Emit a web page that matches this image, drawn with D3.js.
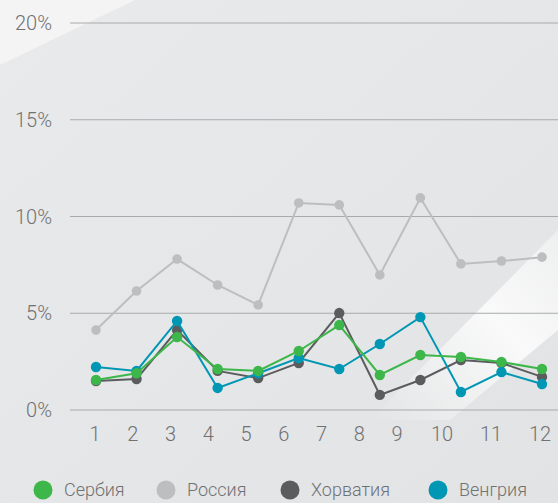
<!DOCTYPE html>
<html>
<head>
<meta charset="utf-8">
<script src="https://cdn.jsdelivr.net/npm/d3@7"></script>
<style>
  body { margin: 0; background: #e6e7e8; }
  svg { display: block; font-family: Roboto, "Noto Sans", sans-serif; font-weight: 300; }
</style>
</head>
<body>
<div id="chart"></div>
<script>
// Data
const months = [1, 2, 3, 4, 5, 6, 7, 8, 9, 10, 11, 12];
const yTicks = [0, 5, 10, 15, 20];
const seriesNames = ["Сербия", "Россия", "Хорватия", "Венгрия"];
const serbia  = [1.55, 1.9, 3.77, 2.12, 2.02, 3.05, 4.39, 1.81, 2.84, 2.74, 2.48, 2.12];
const russia  = [4.13, 6.15, 7.8, 6.46, 5.43, 10.7, 10.6, 6.98, 10.96, 7.55, 7.7, 7.9];
const croatia = [1.5, 1.6, 4.13, 2.02, 1.65, 2.43, 5.01, 0.78, 1.55, 2.58, 2.43, 1.71];
const hungary = [2.22, 2.02, 4.6, 1.14, 1.9, 2.69, 2.12, 3.41, 4.8, 0.93, 1.96, 1.34];
const colors = ["#3db64a", "#bdbec0", "#5b5c5e", "#0097b4"];

const W = 558, H = 503;

const svg = d3.select("#chart")
  .append("svg")
  .attr("width", W)
  .attr("height", H);

// background: grey with light diagonal streaks
const defs = svg.append("defs");
const g1 = defs.append("linearGradient").attr("id", "bg").attr("x1", 0).attr("y1", 0).attr("x2", 1).attr("y2", 1);
g1.append("stop").attr("offset", "0%").attr("stop-color", "#e9eaeb");
g1.append("stop").attr("offset", "100%").attr("stop-color", "#e2e3e4");
svg.append("rect").attr("width", W).attr("height", H).attr("fill", "url(#bg)");

const g2 = defs.append("linearGradient").attr("id", "streak").attr("x1", 0).attr("y1", 1).attr("x2", 1).attr("y2", 0);
g2.append("stop").attr("offset", "0%").attr("stop-color", "#ffffff").attr("stop-opacity", 0);
g2.append("stop").attr("offset", "60%").attr("stop-color", "#ffffff").attr("stop-opacity", 0.8);
g2.append("stop").attr("offset", "100%").attr("stop-color", "#ffffff").attr("stop-opacity", 0.4);

svg.append("path")
  .attr("d", "M0,0 L135,0 L0,65 Z")
  .attr("fill", "#f4f4f5");
svg.append("path")
  .attr("d", "M370,420 L558,230 L558,330 L450,420 Z")
  .attr("fill", "url(#streak)");

// Scales
const x = d3.scalePoint().domain(months).range([96, 542]);
// tick labels are not evenly spaced in the original
const xLabel = d3.scaleLinear().domain([1, 9, 10, 12]).range([95, 397, 442, 540]);
const y = d3.scaleLinear().domain([0, 20]).range([410, 23]);

// Gridlines and y labels
const grid = svg.append("g");
grid.selectAll("line")
  .data(yTicks)
  .enter()
  .append("line")
  .attr("x1", 70)
  .attr("x2", W)
  .attr("y1", d => y(d))
  .attr("y2", d => y(d))
  .attr("stroke", "#a9aaac")
  .attr("stroke-width", 1.2);

grid.selectAll("text")
  .data(yTicks)
  .enter()
  .append("text")
  .attr("x", 52)
  .attr("y", d => y(d))
  .attr("dy", "0.36em")
  .attr("text-anchor", "end")
  .attr("fill", "#707173")
  .style("font-size", "20px")
  .text(d => d + "%");

// x labels
svg.append("g")
  .selectAll("text")
  .data(months)
  .enter()
  .append("text")
  .attr("x", d => xLabel(d))
  .attr("y", 434)
  .attr("dy", "0.36em")
  .attr("text-anchor", "middle")
  .attr("fill", "#707173")
  .style("font-size", "20px")
  .text(d => d);

// Lines
const line = d3.line()
  .x((d, i) => x(months[i]))
  .y(d => y(d));

const drawOrder = [
  { values: russia, color: colors[1], r: 4.8 },
  { values: croatia, color: colors[2], r: 5.2 },
  { values: hungary, color: colors[3], r: 5.2 },
  { values: serbia, color: colors[0], r: 5.2 }
];

drawOrder.forEach(s => {
  const g = svg.append("g");
  g.append("path")
    .datum(s.values)
    .attr("fill", "none")
    .attr("stroke", s.color)
    .attr("stroke-width", 2)
    .attr("d", line);
  g.selectAll("circle")
    .data(s.values)
    .enter()
    .append("circle")
    .attr("cx", (d, i) => x(months[i]))
    .attr("cy", d => y(d))
    .attr("r", s.r)
    .attr("fill", s.color);
});

// Legend
const legendX = [43, 166, 290, 438];
const legend = svg.append("g");
seriesNames.forEach((name, i) => {
  legend.append("circle")
    .attr("cx", legendX[i])
    .attr("cy", 490)
    .attr("r", 9.5)
    .attr("fill", colors[i]);
  legend.append("text")
    .attr("x", legendX[i] + 21)
    .attr("y", 490)
    .attr("dy", "0.36em")
    .attr("fill", "#707173")
    .style("font-size", "18px")
    .text(name);
});
</script>
</body>
</html>
